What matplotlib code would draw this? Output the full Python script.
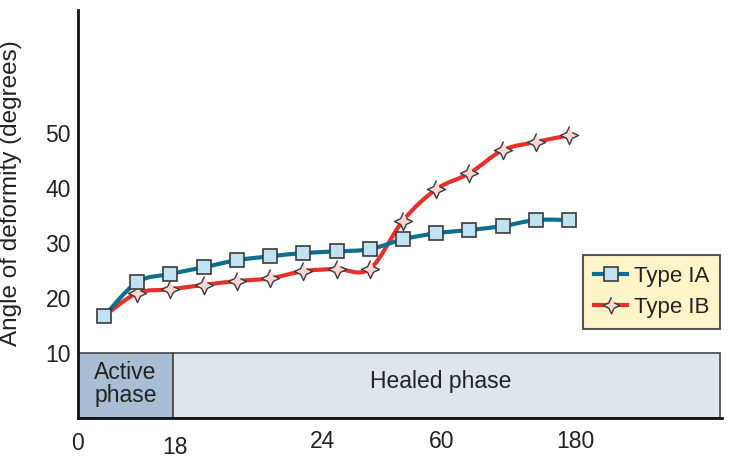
import numpy as np
import matplotlib
matplotlib.use("Agg")
import matplotlib.pyplot as plt
from matplotlib.path import Path
from matplotlib.patches import PathPatch, Rectangle
from matplotlib.lines import Line2D

plt.rcParams['font.family'] = ['Liberation Sans', 'DejaVu Sans']

# follow-up visits (equally spaced on the drawing)
visits = np.arange(15)
type_ia = [16.7, 22.9, 24.4, 25.6, 26.9, 27.6, 28.2, 28.5, 28.9, 30.7, 31.8, 32.4, 33.1, 34.2, 34.2]
type_ib = [16.7, 20.9, 21.6, 22.4, 23.1, 23.6, 24.9, 25.3, 25.3, 34.1, 39.8, 42.7, 46.9, 48.4, 49.6]

x_tick_labels = ['0', '18', '24', '60', '180']
x_tick_pos = [-0.81, 2.14, 6.57, 10.15, 14.2]
x_tick_drop = [25, 29, 23, 23, 23]
y_ticks = [10, 20, 30, 40, 50]

phase_split = 2.08
x_min, x_max = -0.78, 18.6
y_min, y_max = -1.8, 72.4

ia_line, ia_face = '#0b6f8f', '#bfe3f2'
ib_line, ib_face = '#e8302a', '#f9d6d2'
edge = '#3a3a3a'
txt = '#222222'
fs = 16.5


def smooth_path(x, y):
    pts = np.column_stack([x, y]).astype(float)
    verts = [pts[0]]
    codes = [Path.MOVETO]
    for i in range(len(pts) - 1):
        p0 = pts[i - 1] if i > 0 else pts[i]
        p1, p2 = pts[i], pts[i + 1]
        p3 = pts[i + 2] if i + 2 < len(pts) else pts[i + 1]
        verts += [p1 + (p2 - p0) / 6, p2 - (p3 - p1) / 6, p2]
        codes += [Path.CURVE4] * 3
    return Path(verts, codes)


# four pointed star marker
ang = np.arange(8) * np.pi / 4 + np.pi / 2
rad = np.where(np.arange(8) % 2 == 0, 1.0, 0.45)
star = np.column_stack([rad * np.cos(ang), rad * np.sin(ang)])

fig = plt.figure(figsize=(7.3, 4.68), dpi=100)
ax = fig.add_axes([78 / 730, 1 - 418 / 468, 644 / 730, 408 / 468])

# phase boxes
ax.add_patch(Rectangle((x_min, y_min), phase_split - x_min, 10 - y_min,
                       facecolor='#a9bed4', edgecolor='#444444', lw=1.2, zorder=1))
ax.add_patch(Rectangle((phase_split, y_min), 18.55 - phase_split, 10 - y_min,
                       facecolor='#e0e4eb', edgecolor='#444444', lw=1.2, zorder=1))
ax.text((x_min + phase_split) / 2, 4.3, 'Active\nphase', ha='center', va='center',
        fontsize=fs, color=txt, linespacing=1.0)
ax.text(10.14, 4.8, 'Healed phase', ha='center', va='center', fontsize=fs, color=txt)

# curves
ax.add_patch(PathPatch(smooth_path(visits, type_ib), fill=False, edgecolor=ib_line,
                       lw=3.0, capstyle='round', zorder=3))
ax.plot(visits[1:], type_ib[1:], ls='none', marker=star, ms=13, mfc=ib_face,
        mec=edge, mew=1.0, zorder=4)
ax.add_patch(PathPatch(smooth_path(visits, type_ia), fill=False, edgecolor=ia_line,
                       lw=3.0, capstyle='round', zorder=5))
ax.plot(visits, type_ia, ls='none', marker='s', ms=10.5, mfc=ia_face,
        mec=edge, mew=1.2, zorder=6)

ax.set_xlim(x_min, x_max)
ax.set_ylim(y_min, y_max)

ax.set_yticks(y_ticks)
ax.tick_params(axis='y', length=0, pad=5, labelsize=fs, labelcolor=txt)
ax.set_xticks([])
for pos, lab, drop in zip(x_tick_pos, x_tick_labels, x_tick_drop):
    ax.annotate(lab, xy=(pos, 0), xycoords=('data', 'axes fraction'),
                xytext=(0, -drop), textcoords='offset pixels',
                ha='center', va='center', fontsize=fs, color=txt)

ax.set_ylabel('Angle of deformity (degrees)', fontsize=17.5, color=txt)
ax.yaxis.set_label_coords(-0.087, 0.55)

for s in ['top', 'right']:
    ax.spines[s].set_visible(False)
for s in ['left', 'bottom']:
    ax.spines[s].set_linewidth(2.0)
    ax.spines[s].set_color('#111111')

handles = [
    Line2D([], [], color=ia_line, lw=3, marker='s', ms=9.5, mfc=ia_face, mec=edge, mew=1.2),
    Line2D([], [], color=ib_line, lw=3, marker=star, ms=12, mfc=ib_face, mec=edge, mew=1.0),
]
leg = ax.legend(handles, ['Type IA', 'Type IB'], loc='upper left',
                bbox_to_anchor=(0.784, 0.40), borderaxespad=0, fontsize=16,
                frameon=True, fancybox=False, framealpha=1, facecolor='#fdf5c8',
                edgecolor='#555555', handlelength=1.5, borderpad=0.5,
                labelspacing=0.45, handletextpad=0.3)
leg.get_frame().set_linewidth(1.5)
for t in leg.get_texts():
    t.set_color(txt)

fig.savefig('out.png', dpi=100, facecolor='white')
